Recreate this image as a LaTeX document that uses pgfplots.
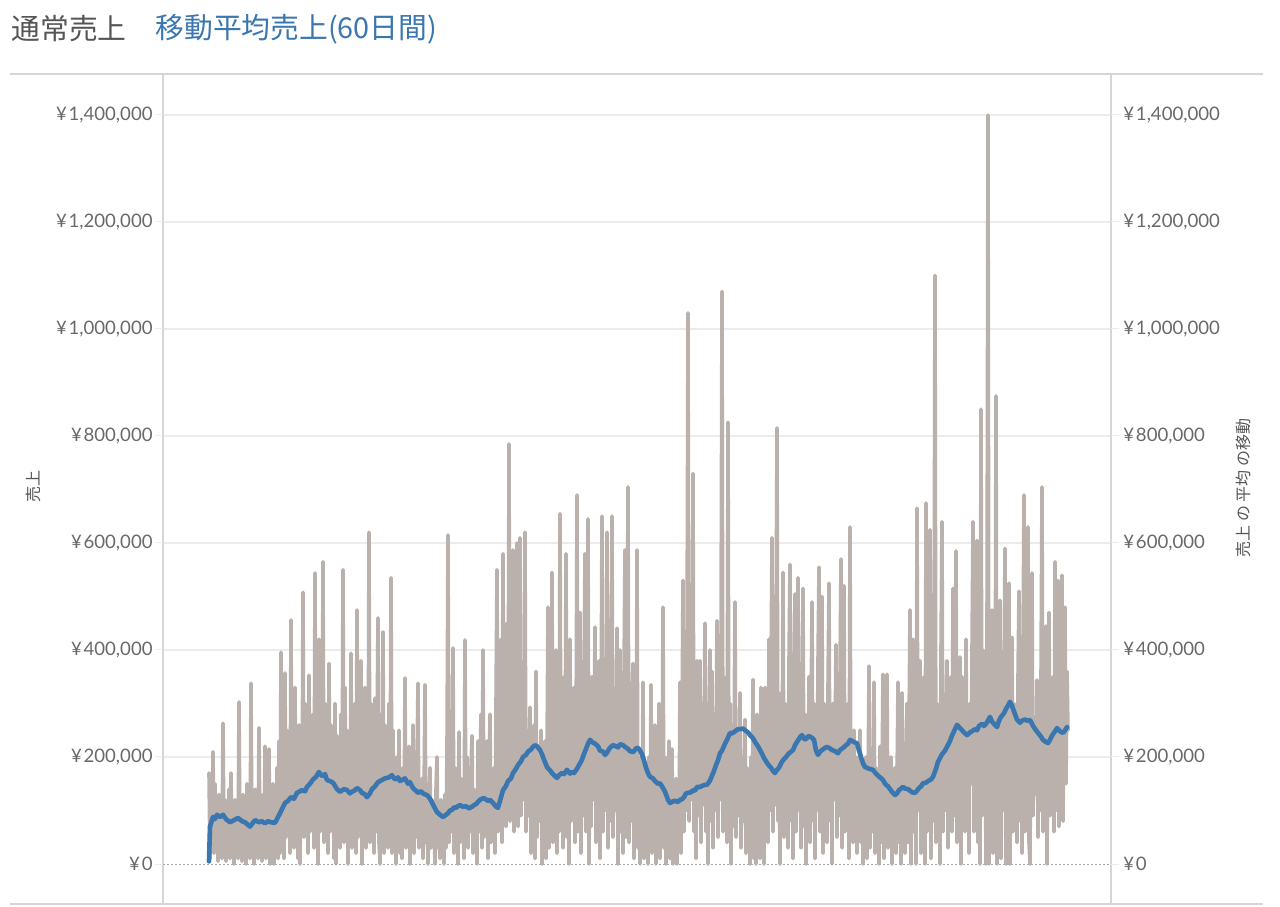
\documentclass[border=0pt]{standalone}
\usepackage{fontspec}
\setmainfont{Lato}
\newfontfamily\jp{Noto Sans CJK JP}
\usepackage{pgfplots}
\pgfplotsset{compat=1.18}
\definecolor{greyline}{RGB}{186,176,172}
\definecolor{blueline}{RGB}{58,118,175}
\definecolor{ticktext}{RGB}{105,105,105}
\definecolor{titlegray}{RGB}{85,85,85}
\definecolor{gridc}{RGB}{236,236,236}
\definecolor{framec}{RGB}{214,214,214}
\newcommand{\yen}{¥\kern0.9pt}
\begin{document}
\begin{tikzpicture}[x=0.5pt,y=0.5pt]
\path[use as bounding box] (0,0) rectangle (1280,906);
\pgfplotsset{
  common/.style={
    at={(81.5pt,1pt)}, anchor=south west, scale only axis,
    width=474pt, height=415pt,
    xmin=163, xmax=1111, ymin=-74.77, ymax=1476.6,
    xtick=\empty, clip=false,
    ytick={200,400,600,800,1000,1200,1400},
    yticklabels={{\yen200,000},{\yen400,000},{\yen600,000},{\yen800,000},{\yen1,000,000},{\yen1,200,000},{\yen1,400,000}},
    extra y ticks={0}, extra y tick labels={{\yen0}},
    tick label style={font=\fontsize{9.3}{11}\selectfont, text=ticktext},
    tick align=outside, major tick length=4pt,
    ytick style={draw=gridc, line width=0.5pt},
  }
}
\begin{axis}[common,
  ymajorgrids, major grid style={draw=gridc, line width=0.6pt},
  extra y tick style={grid=none},
  axis line style={draw=framec, line width=0.6pt},
  yticklabel style={anchor=east, inner sep=0pt, xshift=-1pt},
]
\draw[black!35, dash pattern=on 1pt off 1pt, line width=0.4pt] (axis cs:163,0) -- (axis cs:1118,0);
\addplot[greyline, line width=1.8pt, line join=round, line cap=round] coordinates {
(209,170)(210,10)(211,120)(212,30)(213,210)(214,20)(215,150)(216,40)(217,110)(218,5)(219,130)(220,30)(221,90)(222,10)(223,263)(224,40)(225,120)(226,5)(227,100)(228,50)(229,140)(230,10)(231,170)(232,30)(233,90)(234,0)(235,120)(236,40)(237,100)(238,10)(239,303)(240,30)(241,110)(242,5)(243,130)(244,50)(245,90)(246,0)(247,150)(248,40)(249,110)(250,10)(251,338)(252,30)(253,120)(254,0)(255,140)(256,50)(257,100)(258,10)(259,255)(260,40)(261,130)(262,5)(263,90)(264,30)(265,220)(266,10)(267,120)(268,40)(269,215)(270,0)(271,100)(272,20)(273,150)(274,0)(275,110)(276,30)(277,180)(278,10)
(279,230)(280,20)(281,396)(282,60)(283,200)(284,10)(285,357)(286,50)(287,250)(288,80)(289,180)(290,20)(291,456)(292,60)(293,280)(294,30)(295,330)(296,70)(297,220)(298,10)(299,260)(300,0)(301,190)(302,60)(303,508)(304,50)(305,300)(306,80)(307,240)(308,20)(309,353)(310,60)(311,230)(312,90)(313,280)(314,30)(315,544)(316,50)(317,320)(318,0)(319,420)(320,60)(321,260)(322,80)(323,565)(324,40)(325,300)(326,70)(327,220)(328,20)(329,375)(330,60)(331,260)(332,90)(333,200)(334,10)(335,300)(336,0)(337,240)(338,50)(339,170)(340,30)(341,280)(342,60)(343,550)(344,40)(345,330)(346,80)(347,250)(348,0)(349,180)(350,60)(351,394)(352,30)(353,260)(354,70)(355,300)(356,20)(357,475)(358,50)(359,280)(360,80)(361,380)(362,0)(363,230)(364,60)(365,330)(366,30)(367,200)(368,60)(369,620)(370,40)(371,300)(372,80)(373,240)(374,20)(375,310)(376,60)(377,230)(378,460)(379,40)(380,0)(381,280)(382,60)(383,434)(384,20)(385,260)(386,70)(387,200)(388,30)(389,300)(390,60)(391,535)(392,20)(393,250)(394,60)(395,150)(396,0)(397,200)(398,40)(399,250)(400,20)
(401,120)(402,10)(403,180)(404,50)(405,348)(406,30)(407,150)(408,60)(409,220)(410,0)(411,140)(412,40)(413,260)(414,20)(415,130)(416,50)(417,190)(418,338)(419,30)(420,110)(421,60)(422,160)(423,10)(424,120)(425,335)(426,40)(427,150)(428,0)(429,100)(430,180)(431,30)(432,120)(433,50)(434,90)(435,0)(436,140)(437,200)(438,30)(439,80)(440,10)(441,120)(442,40)(443,100)(444,0)(445,130)(446,30)
(447,220)(448,615)(449,40)(450,200)(451,60)(452,150)(453,404)(454,20)(455,180)(456,60)(457,120)(458,0)(459,247)(460,40)(461,160)(462,70)(463,110)(464,10)(465,419)(466,50)(467,200)(468,30)(469,130)(470,60)(471,180)(472,240)(473,20)(474,140)(475,50)(476,100)(477,0)(478,230)(479,60)(480,150)(481,280)(482,30)(483,400)(484,50)(485,170)(486,80)(487,230)(488,10)(489,150)(490,280)(491,40)(492,120)(493,60)(494,180)(495,20)
(496,300)(497,550)(498,60)(499,320)(500,90)(501,420)(502,40)(503,580)(504,100)(505,380)(506,70)(507,450)(508,120)(509,785)(510,80)(511,400)(512,130)(513,587)(514,60)(515,350)(516,100)(517,600)(518,70)(519,420)(520,610)(521,90)(522,330)(523,120)(524,280)(525,620)(526,60)(527,250)(528,90)(529,200)(530,293)(531,20)(532,180)(533,60)(534,260)(535,10)(536,360)(537,50)(538,200)(539,80)(540,150)(541,250)(542,0)(543,180)(544,40)(545,230)(546,10)
(547,200)(548,480)(549,30)(550,250)(551,70)(552,545)(553,40)(554,300)(555,90)(556,400)(557,20)(558,220)(559,60)(560,655)(561,80)(562,300)(563,30)(564,350)(565,100)(566,580)(567,50)(568,280)(569,0)(570,420)(571,80)(572,250)(573,110)(574,330)(575,40)(576,200)(577,690)(578,60)(579,300)(580,470)(581,20)(582,250)(583,90)(584,350)(585,580)(586,60)(587,300)(588,645)(589,0)(590,280)(591,70)(592,350)(593,120)(594,200)(595,443)(596,40)(597,300)(598,90)(599,380)(600,10)(601,250)(602,650)(603,60)(604,330)(605,100)(606,240)(607,620)(608,30)(609,300)(610,80)(611,380)(612,650)(613,50)(614,260)(615,100)(616,200)(617,441)(618,0)(619,250)(620,400)(621,60)(622,300)(623,20)(624,350)(625,587)(626,50)(627,280)(628,705)(629,40)(630,200)(631,80)(632,300)(633,375)(634,10)(635,250)(636,60)(637,587)(638,30)(639,200)(640,0)
(641,150)(642,40)(643,340)(644,10)(645,180)(646,60)(647,120)(648,0)(649,200)(650,50)(651,335)(652,20)(653,150)(654,70)(655,260)(656,0)(657,180)(658,40)(659,300)(660,10)(661,140)(662,60)(663,480)(664,30)(665,200)(666,0)(667,150)(668,50)(669,230)(670,10)(671,120)(672,215)(673,0)(674,100)(675,40)(676,160)(677,0)(678,120)(679,50)(680,340)(681,20)
(682,250)(683,530)(684,60)(685,300)(686,100)(687,400)(688,1030)(689,80)(690,350)(691,120)(692,280)(693,730)(694,60)(695,330)(696,10)(697,380)(698,90)(699,250)(700,380)(701,40)(702,300)(703,110)(704,220)(705,450)(706,60)(707,300)(708,0)(709,250)(710,400)(711,80)(712,360)(713,30)(714,280)(715,100)(716,200)(717,455)(718,50)(719,300)(720,120)(721,400)(722,1070)(723,60)(724,350)(725,100)(726,280)(727,40)(728,826)(729,90)(730,300)(731,0)(732,260)(733,70)(734,220)(735,490)(736,50)(737,250)(738,90)(739,180)(740,320)(741,30)(742,200)(743,80)(744,150)(745,270)(746,20)(747,180)(748,60)(749,120)(750,0)(751,200)(752,40)(753,345)(754,10)(755,150)(756,0)(757,280)(758,60)(759,200)(760,10)
(761,330)(762,60)(763,250)(764,0)(765,330)(766,80)(767,300)(768,40)(769,420)(770,100)(771,350)(772,610)(773,60)(774,300)(775,110)(776,400)(777,815)(778,80)(779,320)(780,0)(781,260)(782,90)(783,545)(784,50)(785,300)(786,120)(787,250)(788,30)(789,380)(790,560)(791,80)(792,280)(793,10)(794,350)(795,505)(796,60)(797,300)(798,535)(799,100)(800,250)(801,30)(802,320)(803,515)(804,70)(805,280)(806,0)(807,220)(808,90)(809,350)(810,40)(811,260)(812,490)(813,80)(814,300)(815,10)(816,240)(817,100)(818,380)(819,555)(820,60)(821,280)(822,500)(823,20)(824,300)(825,110)(826,250)(827,40)(828,330)(829,525)(830,80)(831,260)(832,0)(833,300)(834,120)(835,220)(836,410)(837,50)(838,300)(839,90)(840,350)(841,570)(842,30)(843,280)(844,520)(845,60)(846,240)(847,100)(848,300)(849,10)(850,630)(851,70)(852,200)(853,40)(854,250)(855,100)(856,200)(857,20)(858,150)(859,60)(860,250)
(861,40)(862,180)(863,0)(864,150)(865,60)(866,200)(867,10)(868,120)(869,370)(870,30)(871,200)(872,60)(873,150)(874,340)(875,20)(876,180)(877,50)(878,120)(879,0)(880,220)(881,40)(882,160)(883,355)(884,10)(885,200)(886,60)(887,355)(888,30)(889,150)(890,70)(891,200)(892,0)(893,130)(894,50)(895,180)(896,20)(897,150)(898,340)(899,40)(900,200)(901,0)(902,320)(903,60)(904,150)(905,20)
(906,200)(907,300)(908,40)(909,250)(910,475)(911,0)(912,300)(913,420)(914,60)(915,250)(916,0)(917,665)(918,100)(919,300)(920,380)(921,20)(922,280)(923,80)(924,350)(925,0)(926,675)(927,60)(928,300)(929,120)(930,625)(931,10)(932,250)(933,80)(934,350)(935,1100)(936,40)(937,300)(938,110)(939,260)(940,0)(941,400)(942,640)(943,60)(944,300)(945,100)(946,250)(947,380)(948,30)(949,280)(950,120)(951,350)(952,60)(953,515)(954,90)(955,300)(956,585)(957,40)(958,250)(959,100)(960,387)(961,0)(962,350)(963,130)(964,280)(965,60)(966,420)(967,100)(968,220)(969,20)(970,300)(971,150)(972,400)(973,640)(974,60)(975,350)(976,120)(977,605)(978,40)(979,300)(980,0)(981,850)(982,90)(983,400)(984,150)(985,300)(986,0)(987,450)(988,1400)(989,0)(990,350)(991,100)(992,475)(993,20)(994,300)(995,80)(996,875)(997,0)(998,300)(999,120)(1000,493)(1001,10)(1002,250)(1003,100)(1004,350)(1005,590)(1006,0)(1007,300)(1008,90)(1009,525)(1010,0)(1011,260)(1012,424)(1013,60)(1014,300)(1015,130)(1016,250)(1017,40)(1018,350)(1019,510)(1020,80)(1021,300)(1022,20)(1023,400)(1024,690)(1025,60)(1026,300)(1027,110)(1028,630)(1029,40)(1030,0)(1031,350)(1032,544)(1033,90)(1034,250)(1035,130)(1036,200)(1037,344)(1038,50)(1039,280)(1040,100)(1041,350)(1042,705)(1043,60)(1044,200)(1045,120)(1046,445)(1047,0)(1048,300)(1049,470)(1050,90)(1051,250)(1052,150)(1053,350)(1054,60)(1055,565)(1056,100)(1057,300)(1058,530)(1059,70)(1060,250)(1061,130)(1062,540)(1063,80)(1064,300)(1065,480)(1066,150)(1067,360)(1068,250)
};
\end{axis}
\begin{axis}[common,
  axis line style={draw=none},
  yticklabel pos=right,
  yticklabel style={anchor=west, inner sep=0pt, xshift=2pt},
]
\addplot[blueline, line width=2.3pt, line join=round, line cap=round] coordinates {
(209,5)(210,70)(213,88)(215,84)(217,92)(220,88)(223,92)(226,84)(230,78)(234,82)(238,86)(242,80)(245,78)(250,70)(255,82)(259,78)(262,80)(265,76)(268,80)(271,78)(275,77)(280,95)(285,114)(288,118)(291,125)(294,122)(297,133)(302,138)(305,136)(307,144)(310,150)(313,158)(316,163)(319,172)(321,166)(323,165)(325,168)(327,157)(330,155)(333,152)(337,140)(340,135)(344,140)(347,138)(350,132)(352,135)(355,138)(357,142)(360,138)(362,133)(365,130)(367,125)(370,132)(372,140)(375,145)(378,153)(382,157)(385,160)(389,162)(392,166)(394,160)(396,158)(398,162)(400,155)(403,158)(405,160)(408,150)(410,153)(412,145)(414,140)(416,137)(418,133)(421,136)(423,132)(425,130)(427,129)(430,122)(432,115)(435,104)(437,97)(440,92)(443,88)(446,92)(448,95)(450,100)(452,101)(454,106)(456,105)(458,108)(460,110)(463,107)(466,108)(469,104)(472,107)(474,110)(476,112)(478,116)(480,120)(483,123)(485,122)(488,118)(490,120)(492,116)(494,112)(496,107)(498,105)(500,118)(503,138)(506,146)(508,155)(511,160)(513,170)(516,178)(518,185)(521,192)(523,200)(526,204)(528,210)(531,214)(533,219)(535,222)(537,220)(540,213)(542,205)(544,195)(547,181)(550,175)(552,170)(555,164)(557,161)(559,166)(562,170)(564,168)(567,176)(570,169)(572,172)(574,170)(577,178)(580,188)(582,195)(584,206)(586,215)(588,225)(590,232)(592,228)(595,225)(598,220)(600,212)(603,210)(605,204)(607,208)(609,215)(611,219)(613,222)(616,220)(618,218)(620,224)(623,222)(625,219)(628,215)(630,211)(633,209)(636,216)(638,217)(640,212)(642,205)(644,194)(646,180)(648,170)(650,163)(653,160)(655,155)(658,150)(660,151)(663,142)(665,135)(668,120)(670,114)(673,117)(675,118)(678,116)(680,120)(682,121)(684,125)(686,132)(688,133)(691,134)(693,138)(695,137)(697,144)(700,144)(702,146)(705,148)(707,148)(710,156)(712,165)(714,174)(716,185)(718,194)(720,207)(722,212)(725,225)(727,232)(730,245)(732,244)(735,248)(738,252)(740,252)(743,253)(745,250)(748,246)(750,241)(753,235)(755,228)(758,220)(760,213)(762,206)(764,198)(767,189)(769,184)(771,180)(773,174)(775,170)(777,176)(779,180)(781,188)(783,194)(786,200)(788,205)(791,210)(793,213)(795,222)(797,228)(800,237)(802,241)(804,234)(806,233)(808,239)(810,238)(812,236)(814,232)(816,212)(818,204)(820,210)(822,213)(825,217)(827,219)(830,216)(832,213)(835,211)(838,207)(840,213)(843,217)(846,222)(848,225)(850,232)(853,229)(855,227)(857,226)(859,212)(861,200)(863,188)(865,181)(867,180)(869,178)(871,177)(873,176)(875,171)(878,165)(880,162)(883,157)(885,150)(888,145)(890,140)(892,135)(895,129)(897,132)(899,138)(901,141)(903,144)(905,141)(908,140)(910,137)(912,134)(915,133)(917,137)(919,142)(921,145)(923,151)(926,152)(928,155)(931,158)(933,163)(936,178)(938,191)(940,198)(942,205)(945,212)(947,219)(950,230)(952,240)(955,252)(957,260)(959,256)(962,250)(964,246)(967,241)(970,246)(972,248)(975,252)(977,250)(979,258)(982,262)(984,258)(986,262)(988,268)(990,275)(992,266)(994,262)(997,256)(999,268)(1001,275)(1004,282)(1006,290)(1008,296)(1010,303)(1012,296)(1014,285)(1017,270)(1020,264)(1022,268)(1025,270)(1027,268)(1030,269)(1032,262)(1034,255)(1036,250)(1038,245)(1041,238)(1043,232)(1046,228)(1048,226)(1050,232)(1052,240)(1055,248)(1057,254)(1060,248)(1063,245)(1065,250)(1067,256)
};
\end{axis}
% pane borders
\draw[framec, line width=0.6pt] (10,832) -- (1263,832);
\draw[framec, line width=0.6pt] (10,2) -- (1263,2);
% titles
\node[anchor=west, inner sep=0pt, text=titlegray, font=\jp\fontsize{14.4}{16}\selectfont] at (11,877) {通常売上};
\node[anchor=west, inner sep=0pt, text=blueline, font=\jp\fontsize{14.4}{16}\selectfont] at (155,877) {移動平均売上(60日間)};
% axis titles
\node[rotate=90, inner sep=0pt, text=titlegray, font=\jp\fontsize{8}{10}\selectfont] at (33,419) {売上};
\node[rotate=90, inner sep=0pt, text=titlegray, font=\jp\fontsize{8}{10}\selectfont] at (1243,418) {売上 の 平均 の移動};
\end{tikzpicture}
\end{document}
